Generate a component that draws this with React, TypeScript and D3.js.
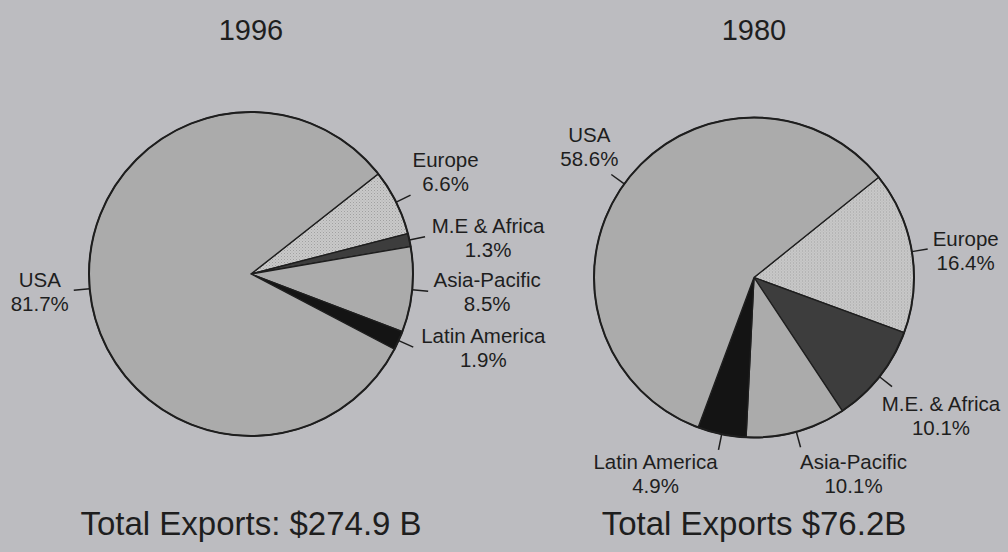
import React from "react";
import * as d3 from "d3";

// ---- data ----
const titles = ["1996", "1980"];
const totals = ["Total Exports: $274.9 B", "Total Exports $76.2B"];
const regions1996 = ["Europe", "M.E & Africa", "Asia-Pacific", "Latin America", "USA"];
const shares1996 = [6.6, 1.3, 8.5, 1.9, 81.7];
const regions1980 = ["Europe", "M.E. & Africa", "Asia-Pacific", "Latin America", "USA"];
const shares1980 = [16.4, 10.1, 10.1, 4.9, 58.6];

// ---- layout / style ----
const W = 1008;
const H = 552;
const pies = [
  { cx: 251, cy: 274, r: 162, startDeg: 51.8, regions: regions1996, shares: shares1996,
    labelOffsets: [[35, -28], [63, -4], [59, -4], [70, -4], [-34, -3]] },
  { cx: 754, cy: 277.5, r: 160, startDeg: 51.2, regions: regions1980, shares: shares1980,
    labelOffsets: [[38, -3], [49, 24], [53, 22], [-63, 19], [-22, -32]] },
];
const fills = ["url(#stipple)", "#3d3d3d", "#ababab", "#141414", "#ababab"];
const FONT = "'Liberation Sans', Arial, Helvetica, sans-serif";
const INK = "#1e1e1e";

export default function App() {
  return (
    <svg width={W} height={H} style={{ position: "absolute", left: 0, top: 0 }} fontFamily={FONT}>
      <defs>
        <pattern id="stipple" width="3" height="3" patternUnits="userSpaceOnUse">
          <rect width="3" height="3" fill="#c9c9c9" />
          <rect width="1" height="1" fill="#a0a0a0" />
          <rect x="1.5" y="1.5" width="1" height="1" fill="#adadad" />
        </pattern>
      </defs>
      <rect width={W} height={H} fill="#bcbcc0" />
      {pies.map((p, pi) => {
        const s = (p.startDeg * Math.PI) / 180;
        const arcs = d3
          .pie<number>()
          .sort(null)
          .startAngle(s)
          .endAngle(s + 2 * Math.PI)(p.shares);
        const arc = d3.arc<d3.PieArcDatum<number>>().innerRadius(0).outerRadius(p.r);
        return (
          <g key={pi}>
            <text x={p.cx} y={40} textAnchor="middle" fontSize={29} fill={INK}>
              {titles[pi]}
            </text>
            <g transform={`translate(${p.cx},${p.cy})`}>
              {arcs.map((a, i) => (
                <path key={i} d={arc(a) || ""} fill={fills[i]} stroke={INK} strokeWidth={1.3} />
              ))}
              <circle r={p.r} fill="none" stroke={INK} strokeWidth={2} />
              {arcs.map((a, i) => {
                const m = (a.startAngle + a.endAngle) / 2;
                const x1 = p.r * Math.sin(m);
                const y1 = -p.r * Math.cos(m);
                const x2 = (p.r + 16) * Math.sin(m);
                const y2 = -(p.r + 16) * Math.cos(m);
                const [dx, dy] = p.labelOffsets[i];
                return (
                  <g key={"l" + i}>
                    <line x1={x1} y1={y1} x2={x2} y2={y2} stroke={INK} strokeWidth={1.5} />
                    <text x={x2 + dx} y={y2 + dy} textAnchor="middle" fontSize={20.5} fill={INK}>
                      <tspan x={x2 + dx}>{p.regions[i]}</tspan>
                      <tspan x={x2 + dx} dy={24}>{p.shares[i].toFixed(1)}%</tspan>
                    </text>
                  </g>
                );
              })}
            </g>
            <text x={p.cx} y={535} textAnchor="middle" fontSize={33} fill={INK}>
              {totals[pi]}
            </text>
          </g>
        );
      })}
    </svg>
  );
}
